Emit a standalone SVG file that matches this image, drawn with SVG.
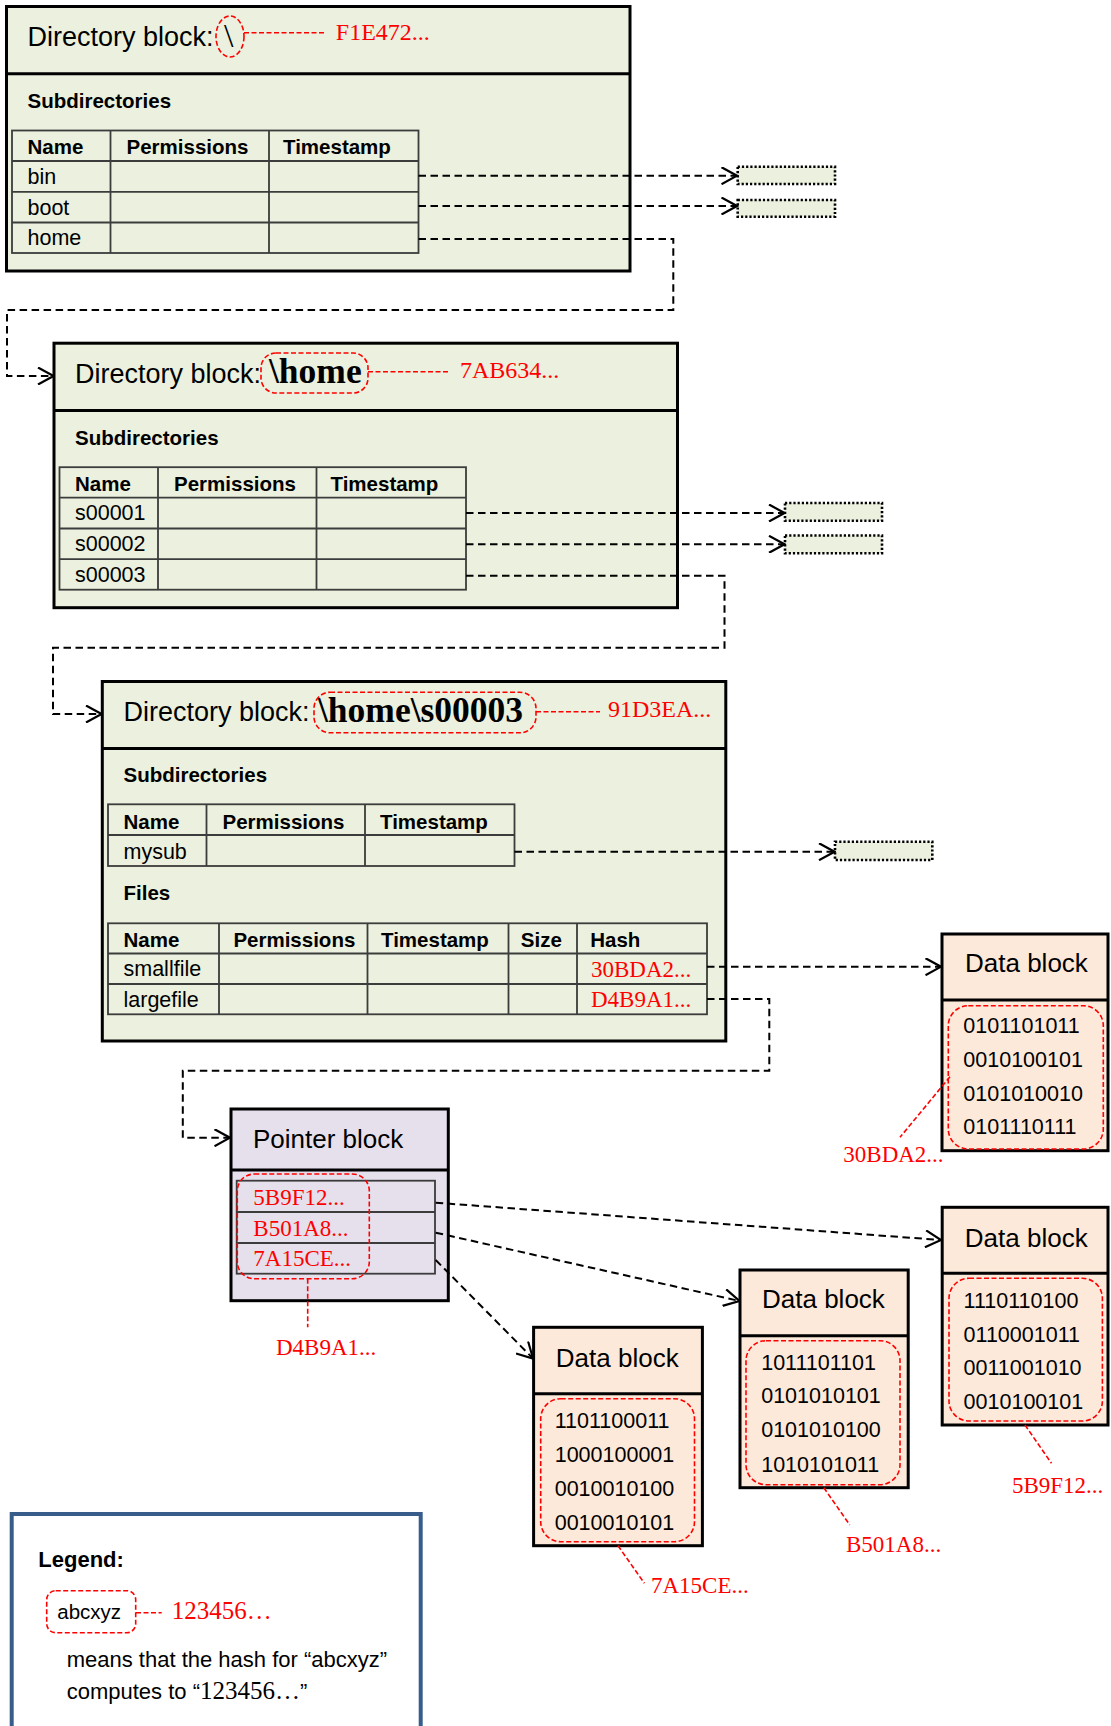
<svg xmlns="http://www.w3.org/2000/svg" width="1111" height="1726" viewBox="0 0 1111 1726">
<defs>
<style>
.blk{stroke:#000;stroke-width:3}
.dir{fill:#EBF1DE}
.dat{fill:#FDE9D9}
.ptr{fill:#E5E0EC}
.tbl{fill:none;stroke:#3c3c3c;stroke-width:1.8}
.ph{fill:#EBF1DE;stroke:#000;stroke-width:2.6;stroke-dasharray:2.2 2}
.rd{fill:none;stroke:#FF0000;stroke-width:1.6;stroke-dasharray:5 2.5}
.con{fill:none;stroke:#000;stroke-width:2;stroke-dasharray:7.5 4.5;marker-end:url(#arr)}
text{font-family:"Liberation Sans",Arial,sans-serif;fill:#000}
.t{font-size:27px}
.h{font-size:20.5px;font-weight:bold}
.c{font-size:21.5px}
.db{font-size:26px}
.bin{font-size:21.5px}
.sf{font-family:"Liberation Serif","Times New Roman",serif}
.red{fill:#FF0000;font-size:23px}
.red2{fill:#FF0000;font-size:24px}
.path{font-size:35.5px;font-weight:bold}
</style>
<marker id="arr" viewBox="0 0 18 18" refX="16.5" refY="9" markerWidth="18" markerHeight="18" markerUnits="userSpaceOnUse" orient="auto">
<path d="M1,0.5 L16.5,9 L1,17.5" fill="none" stroke="#000" stroke-width="2.2" stroke-dasharray="none"/>
</marker>
</defs>

<!-- Directory block: root -->
<g id="dir-root">
<rect class="blk dir" x="6.5" y="6.5" width="623.5" height="264.5"/>
<line class="blk" x1="6.5" y1="73.8" x2="630" y2="73.8"/>
<text class="t" x="27.5" y="46">Directory block:</text>
<text class="sf" x="224" y="47" font-size="34">\</text>
<ellipse class="rd" cx="230" cy="36.5" rx="14" ry="20.5"/>
<line class="rd" x1="244" y1="32.7" x2="325.5" y2="32.7"/>
<text class="sf red2" x="335.8" y="39.5">F1E472...</text>
<text class="h" x="27.5" y="108">Subdirectories</text>
<rect class="tbl" x="12" y="130.5" width="406.5" height="122.5"/>
<path class="tbl" d="M110.5,130.5V253M269,130.5V253M12,161H418.5M12,191.8H418.5M12,222.5H418.5"/>
<text class="h" x="27.5" y="154">Name</text>
<text class="h" x="126.5" y="154">Permissions</text>
<text class="h" x="283" y="154">Timestamp</text>
<text class="c" x="27.5" y="183.5">bin</text>
<text class="c" x="27.5" y="214.5">boot</text>
<text class="c" x="27.5" y="245">home</text>
</g>

<!-- Directory block: \home -->
<g id="dir-home">
<rect class="blk dir" x="54" y="343.2" width="623.5" height="264.5"/>
<line class="blk" x1="54" y1="410.5" x2="677.5" y2="410.5"/>
<text class="t" x="75" y="382.5">Directory block:</text>
<text class="sf path" x="269" y="383" font-size="34">\home</text>
<rect class="rd" x="261" y="353" width="107" height="40" rx="15"/>
<line class="rd" x1="368" y1="371.7" x2="449" y2="371.7"/>
<text class="sf red2" x="460" y="377.5">7AB634...</text>
<text class="h" x="75" y="444.5">Subdirectories</text>
<rect class="tbl" x="59.5" y="467.2" width="406.5" height="122.5"/>
<path class="tbl" d="M158,467.2V589.7M316.5,467.2V589.7M59.5,497.7H466M59.5,528.5H466M59.5,559.2H466"/>
<text class="h" x="75" y="490.7">Name</text>
<text class="h" x="174" y="490.7">Permissions</text>
<text class="h" x="330.5" y="490.7">Timestamp</text>
<text class="c" x="75" y="520">s00001</text>
<text class="c" x="75" y="551">s00002</text>
<text class="c" x="75" y="581.7">s00003</text>
</g>

<!-- Directory block: \home\s00003 -->
<g id="dir-s00003">
<rect class="blk dir" x="102.3" y="681.5" width="623.5" height="359.5"/>
<line class="blk" x1="102.3" y1="748.5" x2="725.8" y2="748.5"/>
<text class="t" x="123.5" y="721">Directory block:</text>
<text class="sf path" x="318" y="722">\home\s00003</text>
<rect class="rd" x="314" y="692.3" width="222" height="40.5" rx="16"/>
<line class="rd" x1="536" y1="711.7" x2="600" y2="711.7"/>
<text class="sf red2" x="608" y="717">91D3EA...</text>
<text class="h" x="123.5" y="782">Subdirectories</text>
<rect class="tbl" x="108" y="804.3" width="406.5" height="61.7"/>
<path class="tbl" d="M206.5,804.3V866M365,804.3V866M108,835H514.5"/>
<text class="h" x="123.5" y="828.5">Name</text>
<text class="h" x="222.5" y="828.5">Permissions</text>
<text class="h" x="380" y="828.5">Timestamp</text>
<text class="c" x="123.5" y="858.5">mysub</text>
<text class="h" x="123.5" y="899.5">Files</text>
<rect class="tbl" x="108" y="923.3" width="599" height="91"/>
<path class="tbl" d="M219,923.3V1014.3M367.5,923.3V1014.3M508.5,923.3V1014.3M577,923.3V1014.3M108,953.5H707M108,984H707"/>
<text class="h" x="123.5" y="946.7">Name</text>
<text class="h" x="233.4" y="946.7">Permissions</text>
<text class="h" x="381" y="946.7">Timestamp</text>
<text class="h" x="520.8" y="946.7">Size</text>
<text class="h" x="590.2" y="946.7">Hash</text>
<text class="c" x="123.5" y="975.7">smallfile</text>
<text class="c" x="123.5" y="1006.7">largefile</text>
<text class="sf red" x="591" y="976.5">30BDA2...</text>
<text class="sf red" x="591" y="1007">D4B9A1...</text>
</g>

<!-- placeholder subdirectory blocks -->
<g id="ph-bin"><rect class="ph" x="737.7" y="166.7" width="97.3" height="17.3"/></g>
<g id="ph-boot"><rect class="ph" x="737.7" y="200" width="97.3" height="16.7"/></g>
<g id="ph-s00001"><rect class="ph" x="785" y="503" width="97" height="17.7"/></g>
<g id="ph-s00002"><rect class="ph" x="785" y="535.5" width="97" height="17.7"/></g>
<g id="ph-mysub"><rect class="ph" x="835" y="841.7" width="97.3" height="18.3"/></g>

<!-- Pointer block -->
<g id="pointer-block">
<rect class="blk ptr" x="231" y="1109" width="217.3" height="191.7"/>
<line class="blk" x1="231" y1="1170" x2="448.3" y2="1170"/>
<text class="db" x="253" y="1147.7" font-size="26.5">Pointer block</text>
<rect class="tbl" x="236.7" y="1180.7" width="198.3" height="93"/>
<path class="tbl" d="M236.7,1212H435M236.7,1243H435"/>
<text class="sf red" x="253.3" y="1205">5B9F12...</text>
<text class="sf red" x="253.3" y="1235.7">B501A8...</text>
<text class="sf red" x="253.3" y="1266">7A15CE...</text>
<rect class="rd" x="237.3" y="1174" width="132" height="104.7" rx="17"/>
<line class="rd" x1="307.7" y1="1278.7" x2="307.7" y2="1327.3"/>
<text class="sf red" x="276" y="1355">D4B9A1...</text>
</g>

<!-- Data block 30BDA2 -->
<g id="data-30BDA2">
<rect class="blk dat" x="942" y="934" width="166" height="216.7"/>
<line class="blk" x1="942" y1="1000" x2="1108" y2="1000"/>
<text class="db" x="965" y="971.7">Data block</text>
<text class="bin" x="963.3" y="1033.3">0101101011</text>
<text class="bin" x="963.3" y="1067.3">0010100101</text>
<text class="bin" x="963.3" y="1100.7">0101010010</text>
<text class="bin" x="963.3" y="1134">0101110111</text>
<rect class="rd" x="948.3" y="1005.7" width="155" height="143.3" rx="20"/>
<line class="rd" x1="950" y1="1076.7" x2="900" y2="1137.3"/>
<text class="sf red" x="843.3" y="1161.7">30BDA2...</text>
</g>

<!-- Data block 5B9F12 -->
<g id="data-5B9F12">
<rect class="blk dat" x="942.2" y="1207.3" width="165.8" height="217.7"/>
<line class="blk" x1="942.2" y1="1273.3" x2="1108" y2="1273.3"/>
<text class="db" x="964.8" y="1246.7">Data block</text>
<text class="bin" x="963.6" y="1308.3">1110110100</text>
<text class="bin" x="963.6" y="1342.3">0110001011</text>
<text class="bin" x="963.6" y="1375">0011001010</text>
<text class="bin" x="963.6" y="1409">0010100101</text>
<rect class="rd" x="949" y="1278.3" width="153.4" height="142.7" rx="20"/>
<line class="rd" x1="1025" y1="1425" x2="1051.5" y2="1463.3"/>
<text class="sf red" x="1011.9" y="1493.3">5B9F12...</text>
</g>

<!-- Data block B501A8 -->
<g id="data-B501A8">
<rect class="blk dat" x="740" y="1270" width="168.2" height="217.7"/>
<line class="blk" x1="740" y1="1335.7" x2="908.2" y2="1335.7"/>
<text class="db" x="762" y="1308.3">Data block</text>
<text class="bin" x="761.2" y="1370">1011101101</text>
<text class="bin" x="761.2" y="1403.3">0101010101</text>
<text class="bin" x="761.2" y="1437.3">0101010100</text>
<text class="bin" x="761.2" y="1471.7">1010101011</text>
<rect class="rd" x="746" y="1340.7" width="154" height="144" rx="20"/>
<line class="rd" x1="823.8" y1="1487.7" x2="849.8" y2="1525"/>
<text class="sf red" x="846" y="1551.7">B501A8...</text>
</g>

<!-- Data block 7A15CE -->
<g id="data-7A15CE">
<rect class="blk dat" x="533.6" y="1327.3" width="168.8" height="218.4"/>
<line class="blk" x1="533.6" y1="1393.7" x2="702.4" y2="1393.7"/>
<text class="db" x="555.8" y="1366.7">Data block</text>
<text class="bin" x="554.7" y="1428.3">1101100011</text>
<text class="bin" x="554.7" y="1462.3">1000100001</text>
<text class="bin" x="554.7" y="1495.7">0010010100</text>
<text class="bin" x="554.7" y="1530">0010010101</text>
<rect class="rd" x="540.7" y="1398.7" width="153.8" height="143" rx="20"/>
<line class="rd" x1="618" y1="1545.7" x2="644.4" y2="1583.3"/>
<text class="sf red" x="651" y="1593.3">7A15CE...</text>
</g>

<!-- Legend -->
<g id="legend">
<rect x="11.7" y="1514" width="409" height="240" fill="#fff" stroke="#385D8A" stroke-width="4"/>
<text x="38.3" y="1566.7" font-size="22" font-weight="bold">Legend:</text>
<rect class="rd" x="46.7" y="1590.7" width="89" height="42" rx="9"/>
<text x="57.3" y="1619.3" font-size="20.5">abcxyz</text>
<line class="rd" x1="136" y1="1612.7" x2="161.7" y2="1612.7"/>
<text class="sf" x="171.7" y="1619.3" font-size="25" fill="#FF0000" style="fill:#FF0000">123456…</text>
<text x="66.7" y="1666.7" font-size="22">means that the hash for “abcxyz”</text>
<text x="66.7" y="1699.3" font-size="22">computes to “<tspan class="sf" font-size="25">123456…</tspan>”</text>
</g>

<!-- Connectors -->
<g id="connectors">
<path class="con" d="M418.5,175.7H737"/>
<path class="con" d="M418.5,206H737"/>
<path class="con" d="M418.5,239H673.3V310H7V376H53.5"/>
<path class="con" d="M466,513H784.5"/>
<path class="con" d="M466,544.3H784.5"/>
<path class="con" d="M466,575.7H724.5V647.7H53V714H101.5"/>
<path class="con" d="M514.5,851.7H834.5"/>
<path class="con" d="M707,966.7H941"/>
<path class="con" d="M707,999H769.3V1070.7H182.8V1137.7H230"/>
<path class="con" d="M435.7,1202.7L941,1240"/>
<path class="con" d="M435.7,1232.7L739.5,1301"/>
<path class="con" d="M435.7,1260L533,1358.5"/>
</g>
</svg>
